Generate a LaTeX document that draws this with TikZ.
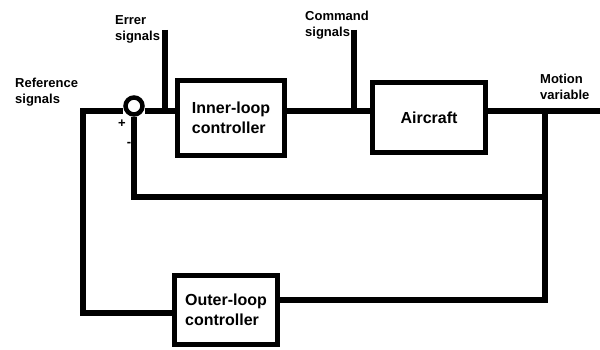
\documentclass[tikz,border=0pt]{standalone}
\usepackage{fontspec}
\setmainfont{Liberation Sans}
\usetikzlibrary{positioning,calc}
\tikzset{
  blockbox/.style={
    draw,
    line width=5.5pt,
    align=left,
    inner sep=0pt,
    font=\fontsize{16}{20}\selectfont\bfseries
  },
  sumnode/.style={draw, circle, line width=4.5pt, minimum size=17pt, inner sep=0pt},
  signal/.style={line width=5.5pt},
  tag/.style={align=left, anchor=north west, inner sep=0pt, font=\fontsize{13}{16}\selectfont\bfseries},
  signtag/.style={inner sep=0pt, font=\fontsize{13}{16}\selectfont\bfseries}
}
\begin{document}
\begin{tikzpicture}[x=1pt, y=-1pt]
\useasboundingbox (0,0) rectangle (600,350);
\node[sumnode] (sum) at (134,106) {};
\node[blockbox, minimum width=107pt, minimum height=75pt] (inner) at (231,118) {Inner-loop\\controller};
\node[blockbox, minimum width=113pt, minimum height=70pt] (aircraft) at (429,117.5) {Aircraft};
\node[blockbox, minimum width=103pt, minimum height=69pt] (outer) at (226,310) {Outer-loop\\controller};

\node[tag] (reflabel) at (15,78) {Reference\\signals};
\node[tag] (errlabel) at (115,15) {Errer\\signals};
\node[tag] (cmdlabel) at (305,11) {Command\\signals};
\node[tag] (motionlabel) at (540,74) {Motion\\variable};
\node[signtag] (plus) at (122,124) {+};
\node[signtag] (minus) at (129,144) {-};

\coordinate (refcorner) at (83,111);
\coordinate (err) at (165,30);
\coordinate (cmd) at (354,30);
\coordinate (out) at (600,111);
\coordinate (tap) at (545,111);
\coordinate (fbinner) at (545,197);

\draw[signal] ([yshift=-3pt]outer.west) -| (refcorner) -- (refcorner -| sum.west);
\draw[signal] (sum.east |- refcorner) -- (refcorner -| inner.west);
\draw[signal] (inner.east |- refcorner) -- (aircraft.west |- refcorner);
\draw[signal] (aircraft.east |- refcorner) -- (out);
\draw[signal] (err) -- (err |- refcorner);
\draw[signal] (cmd) -- (cmd |- refcorner);
\draw[signal] (sum) |- (fbinner);
\draw[signal] (tap) |- ([yshift=10pt]outer.east);
\end{tikzpicture}
\end{document}
